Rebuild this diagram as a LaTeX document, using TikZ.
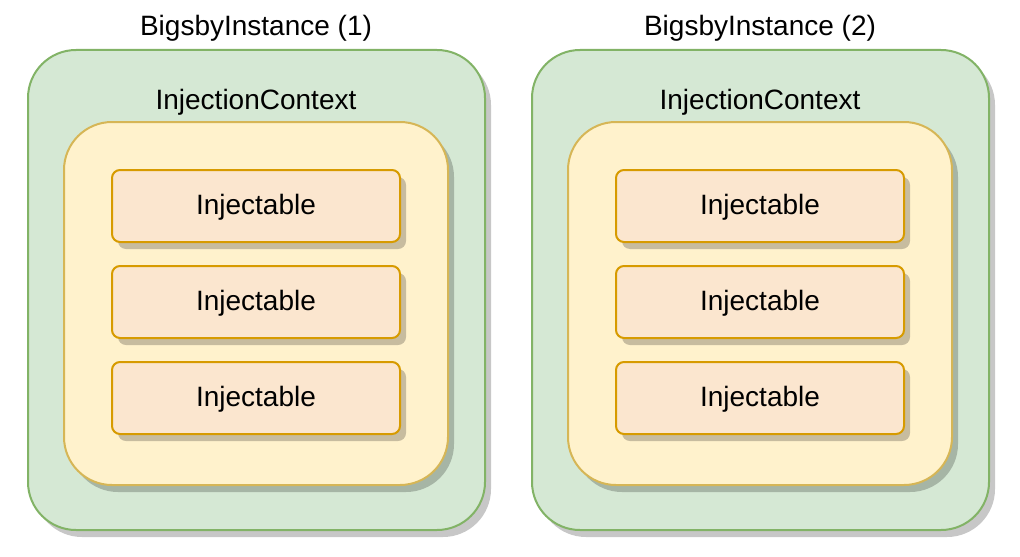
\documentclass[tikz,border=0pt]{standalone}
\usepackage{fontspec}
\setmainfont{Liberation Sans}
\usetikzlibrary{shadows}
\definecolor{instfill}{HTML}{D5E8D4}
\definecolor{instdraw}{HTML}{82B366}
\definecolor{ctxfill}{HTML}{FFF2CC}
\definecolor{ctxdraw}{HTML}{D6B656}
\definecolor{injfill}{HTML}{FBE6CF}
\definecolor{injdraw}{HTML}{D79B00}

\begin{document}
\begin{tikzpicture}[x=0.5pt,y=-0.5pt,font=\fontsize{14}{16}\selectfont,
  shade/.style={drop shadow={shadow xshift=3pt,shadow yshift=-3.5pt,fill=black,opacity=0.22}},
  instance/.style={draw=instdraw,fill=instfill,line width=1pt,rounded corners=24pt,
    minimum width=228.5pt,minimum height=240pt,shade},
  context/.style={draw=ctxdraw,fill=ctxfill,line width=1pt,rounded corners=24pt,
    minimum width=192pt,minimum height=181.5pt,shade},
  injectable/.style={draw=injdraw,fill=injfill,line width=1pt,rounded corners=4pt,
    minimum width=144pt,minimum height=36pt,text height=10pt,text depth=2pt,shade},
  caption/.style={inner sep=0pt,text height=10pt,text depth=2pt}]
\useasboundingbox (0,0) rectangle (1020,556);
\foreach \i/\x in {1/0,2/504}{
  \node[instance] (inst\i) at (256.5+\x,290) {};
  \node[caption] (title\i) at (256+\x,28) {BigsbyInstance (\i)};
  \node[caption] (ctxtitle\i) at (256+\x,101) {InjectionContext};
  \node[context] (ctx\i) at (256+\x,303.5) {};
  \foreach \j/\y in {1/206,2/302,3/398}
    \node[injectable] (inj\i\j) at (256+\x,\y) {Injectable};
}
\end{tikzpicture}
\end{document}
